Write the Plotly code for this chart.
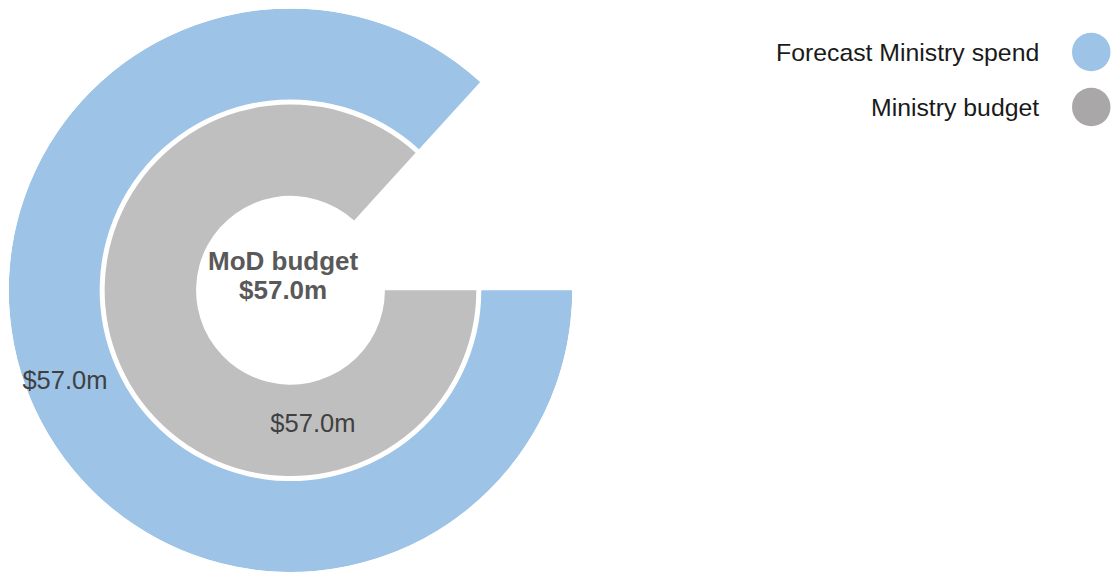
import plotly.graph_objects as go

# ---- data ----
series = ["Forecast Ministry spend", "Ministry budget"]
values = [57.0, 57.0]            # $m
value_labels = ["$57.0m", "$57.0m"]
center_title = "MoD budget"
center_value = "$57.0m"
gauge_max = 65.7                 # value that would complete a full circle

# ---- style / layout ----
colors = ["#9DC3E6", "#BFBFBF"]
legend_colors = ["#9DC3E6", "#A9A7A7"]
band_base = [191, 94.5]          # radial band inner edge (radial-axis units)
band_width = [91, 91.5]
label_r = [244, 137]
label_frac = [0.505, 0.258]      # position of value label along the arc
FONT = "Arial, Liberation Sans, sans-serif"

W, H = 1111, 572
cx, cy, R = 290.5, 290.5, 282

fig = go.Figure()
for i, s in enumerate(series):
    span = values[i] / gauge_max * 360.0
    fig.add_trace(go.Barpolar(
        r=[band_width[i]], base=[band_base[i]],
        theta=[span / 2], width=[span],
        marker=dict(color=colors[i], line=dict(width=0)),
        name=s, showlegend=False, hoverinfo="skip",
    ))
for i, s in enumerate(series):
    span = values[i] / gauge_max * 360.0
    fig.add_trace(go.Scatterpolar(
        r=[label_r[i]], theta=[span * label_frac[i]],
        mode="text", text=[value_labels[i]],
        textfont=dict(family=FONT, size=25.5, color="#404040"),
        textposition="middle center",
        showlegend=False, hoverinfo="skip",
    ))

y0 = (H - cy - R) / H
fig.update_layout(
    width=W, height=H,
    margin=dict(l=0, r=0, t=0, b=0),
    paper_bgcolor="white",
    polar=dict(
        domain=dict(x=[(cx - R) / W, (cx + R) / W],
                    y=[max(y0, 0), min((H - cy + R) / H, 1)]),
        bgcolor="white",
        hole=0,
        radialaxis=dict(range=[0, R], visible=False, showgrid=False),
        angularaxis=dict(rotation=0, direction="clockwise", visible=False,
                         showgrid=False, showline=False, showticklabels=False),
        barmode="overlay",
    ),
    font=dict(family=FONT),
)

# centre text (two lines)
for txt, ypx in [(center_title, 261), (center_value, 290)]:
    fig.add_annotation(
        x=283 / W, y=(H - ypx) / H, xref="paper", yref="paper",
        text=f"<b>{txt}</b>",
        showarrow=False, xanchor="center", yanchor="middle",
        font=dict(family=FONT, size=26, color="#595959"),
    )

# legend (text right, circles on the far right)
leg_y = [52, 107]
for i, s in enumerate(series):
    yc = H - leg_y[i]
    fig.add_annotation(
        x=1041 / W, y=yc / H, xref="paper", yref="paper",
        text=s, showarrow=False, xanchor="right", yanchor="middle",
        font=dict(family=FONT, size=24.8, color="#1a1a1a"),
    )
    fig.add_shape(
        type="circle", xref="paper", yref="paper",
        x0=1072 / W, x1=1110.5 / W,
        y0=(yc - 19.3) / H, y1=(yc + 19.3) / H,
        fillcolor=legend_colors[i], line=dict(width=0),
    )

fig.write_html(
    "out.html",
    config={"displayModeBar": False},
    post_script="document.body.style.margin='0';document.body.style.overflow='hidden';",
)
